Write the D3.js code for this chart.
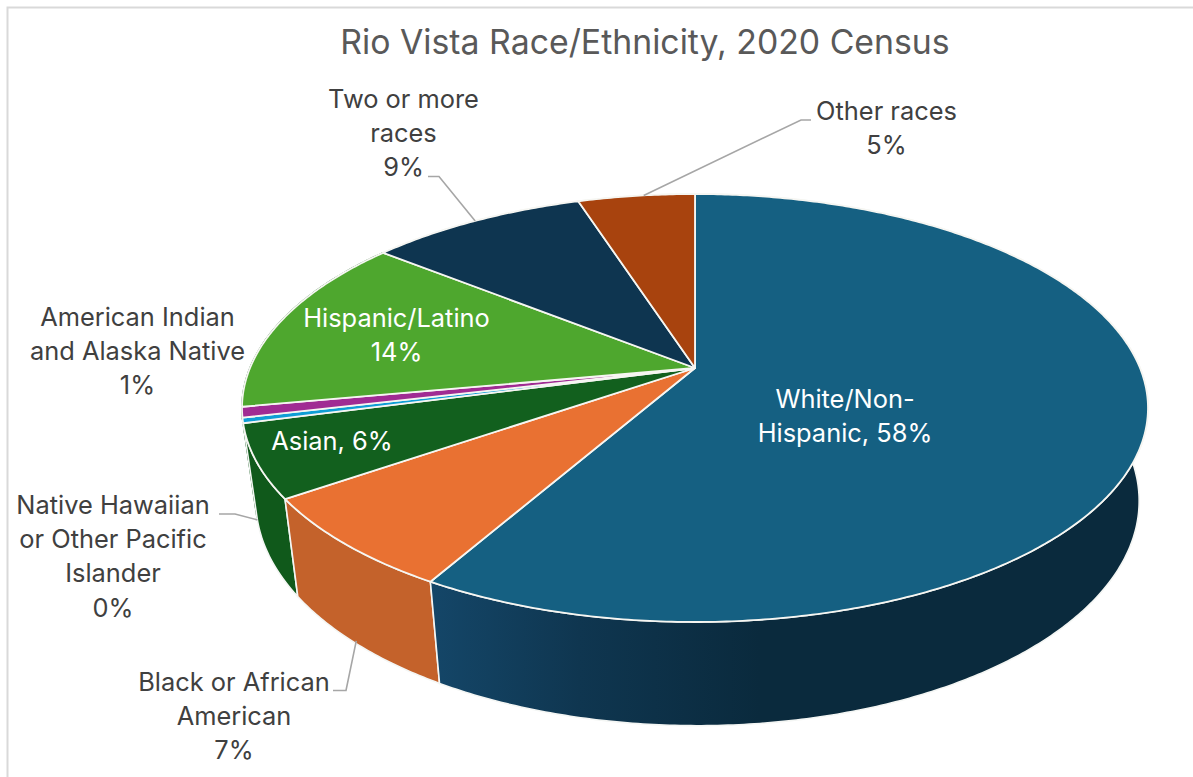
<!DOCTYPE html>
<html>
<head>
<meta charset="utf-8">
<script src="https://cdn.jsdelivr.net/npm/d3@7"></script>
<style>
  html, body { margin: 0; padding: 0; background: #fff; }
  svg { display: block; }
  text { font-family: Inter, "Open Sans", sans-serif; }
</style>
</head>
<body>
<div id="chart"></div>
<script>
// Census shares, clockwise from twelve o'clock
const categories = [
  "White/Non-Hispanic", "Black or African American", "Asian",
  "Native Hawaiian or Other Pacific Islander", "American Indian and Alaska Native",
  "Hispanic/Latino", "Two or more races", "Other races"
];
const values = [58.3, 7.1, 5.5, 0.4, 0.8, 13.6, 9.3, 5.0];
const topColors = ["#156082", "#E97132", "#12601E", "#0F9ED5", "#A02B93", "#4EA72E", "#0E3550", "#A8430E"];
const wallColors = ["#0B2C40", "#C4622B", "#10591B", "#10591B", "#10591B", "#10591B", "#0B2B40", "#85340A"];
const chartTitle = "Rio Vista Race/Ethnicity, 2020 Census";

// Wrapped label text; the trailing function receives the rounded percentage
const labelLines = [
  p => ["White/Non-", `Hispanic, ${p}%`],
  p => ["Black or African", "American", `${p}%`],
  p => [`Asian, ${p}%`],
  p => ["Native Hawaiian", "or Other Pacific", "Islander", `${p}%`],
  p => ["American Indian", "and Alaska Native", `${p}%`],
  p => ["Hispanic/Latino", `${p}%`],
  p => ["Two or more", "races", `${p}%`],
  p => ["Other races", `${p}%`]
];

// Label placement: centre x, first baseline, text colour
const labelPlacement = [
  { x: 845, y: 408, fill: "#ffffff" },
  { x: 234, y: 691, fill: "#404040" },
  { x: 332, y: 450, fill: "#ffffff" },
  { x: 113, y: 514, fill: "#404040" },
  { x: 137.5, y: 326, fill: "#404040" },
  { x: 396.5, y: 327, fill: "#ffffff" },
  { x: 403.5, y: 108, fill: "#404040" },
  { x: 886.5, y: 120, fill: "#404040" }
];

// Leader lines: elbow points from the label, ending on the slice at its mid angle
const leaders = [
  { slice: 1, depth: 0.97, from: [[333, 690.5], [346, 690.5]] },
  { slice: 3, depth: 1.0, shift: -0.025, from: [[219, 514], [235, 514]] },
  { slice: 6, depth: 0, from: [[428, 176.5], [439, 176.5]] },
  { slice: 7, depth: 0, shift: 0.02, from: [[811, 120], [801, 120]] }
];

const width = 1193, height = 777;

// Perspective of the tilted disc: apex, radii and foreshortening
const apex = { x: 695, y: 368 };
const radiusX = 445, radiusY = 206.5, tilt = 0.187;
// The lower rim is a slightly narrower, slightly taller copy pushed downwards
const rimScaleX = 0.975, rimScaleY = 1.05, rimCentreX = 697.5, rimCentreY = 459;

function projectTop(angle, r = 1) {
  const u = r * Math.sin(angle), v = -r * Math.cos(angle);
  const w = 1 - tilt * v;
  return [apex.x + radiusX * u / w, apex.y + radiusY * v / w];
}
function projectBottom(angle) {
  const [x, y] = projectTop(angle);
  return [rimCentreX + (x - apex.x) * rimScaleX, rimCentreY + (y - apex.y) * rimScaleY];
}
function arcAngles(a0, a1) {
  const n = Math.max(2, Math.ceil((a1 - a0) / 0.01));
  return d3.range(n + 1).map(i => a0 + (a1 - a0) * i / n);
}

const svg = d3.select("#chart").append("svg")
  .attr("width", width).attr("height", height);

// Outer chart frame
svg.append("rect")
  .attr("x", 7.5).attr("y", 7.5)
  .attr("width", width + 20).attr("height", height + 20)
  .attr("fill", "#fff").attr("stroke", "#d9d9d9").attr("stroke-width", 2);

svg.append("text")
  .attr("x", 645).attr("y", 54)
  .attr("text-anchor", "middle")
  .attr("font-size", 33.8)
  .attr("fill", "#595959")
  .text(chartTitle);

const slices = d3.pie().sort(null).value(d => d)(values);
const line = d3.line();

// Shading along the white slice's wall, lighter towards the viewer's left
const defs = svg.append("defs");
const wallShade = defs.append("linearGradient")
  .attr("id", "wall-shade")
  .attr("gradientUnits", "userSpaceOnUse")
  .attr("x1", 432).attr("y1", 0).attr("x2", 760).attr("y2", 0);
wallShade.append("stop").attr("offset", 0).attr("stop-color", "#144668");
wallShade.append("stop").attr("offset", 0.45).attr("stop-color", "#0F3650");
wallShade.append("stop").attr("offset", 1).attr("stop-color", "#0A2A3D");

// Outer walls first, so the top face hides the far side
svg.append("g").selectAll("path")
  .data(slices.slice().reverse())
  .join("path")
  .attr("d", d => {
    const angles = arcAngles(d.startAngle, d.endAngle);
    const outline = angles.map(a => projectTop(a))
      .concat(angles.slice().reverse().map(projectBottom));
    return line(outline) + "Z";
  })
  .attr("fill", d => d.index === 0 ? "url(#wall-shade)" : wallColors[d.index])
  .attr("stroke", d => (d.index >= 3 && d.index <= 5) ? wallColors[d.index] : "#f4f6f4")
  .attr("stroke-width", 1.6)
  .attr("stroke-linejoin", "round");

// Top face
svg.append("g").selectAll("path")
  .data(slices)
  .join("path")
  .attr("d", d => {
    const rim = arcAngles(d.startAngle, d.endAngle).map(a => projectTop(a));
    return line([[apex.x, apex.y], ...rim]) + "Z";
  })
  .attr("fill", d => topColors[d.index])
  .attr("stroke", "#f6f6f2")
  .attr("stroke-width", 1.8)
  .attr("stroke-linejoin", "round");

// Leader lines
svg.append("g").selectAll("path")
  .data(leaders)
  .join("path")
  .attr("d", l => {
    const s = slices[l.slice];
    const mid = (s.startAngle + s.endAngle) / 2 + (l.shift || 0);
    const top = projectTop(mid), bottom = projectBottom(mid);
    const end = [top[0] + (bottom[0] - top[0]) * l.depth, top[1] + (bottom[1] - top[1]) * l.depth];
    return line([...l.from, end]);
  })
  .attr("fill", "none")
  .attr("stroke", "#a6a6a6")
  .attr("stroke-width", 1.6);

// Data labels
const labelSize = 25.4, lineStep = 34.2;
svg.append("g").selectAll("text")
  .data(slices)
  .join("text")
  .attr("text-anchor", "middle")
  .attr("font-size", labelSize)
  .attr("fill", d => labelPlacement[d.index].fill)
  .each(function (d) {
    const place = labelPlacement[d.index];
    d3.select(this).selectAll("tspan")
      .data(labelLines[d.index](Math.round(d.value)))
      .join("tspan")
      .attr("x", place.x)
      .attr("y", (t, i) => place.y + i * lineStep)
      .text(t => t);
  });
</script>
</body>
</html>
